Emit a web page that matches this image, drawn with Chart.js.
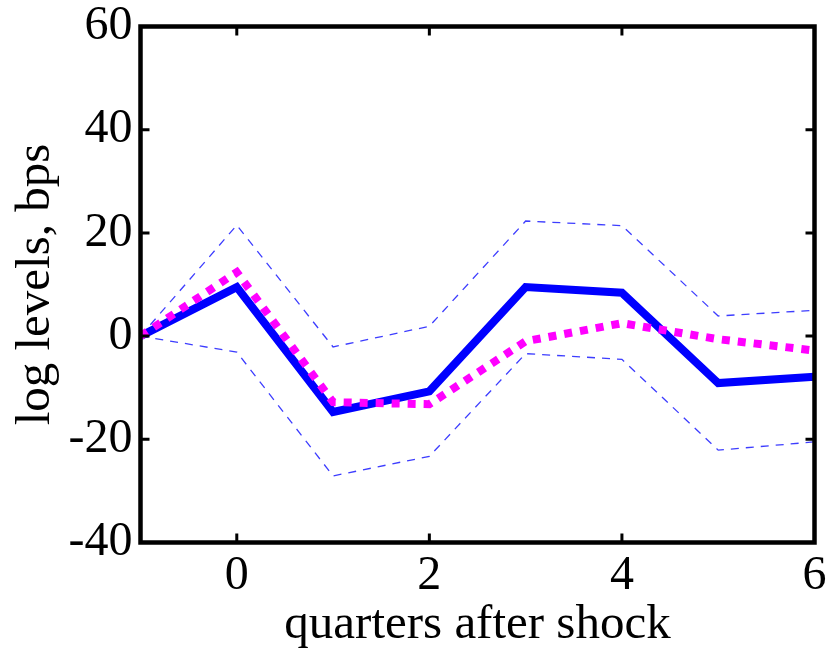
<!DOCTYPE html>
<html>
<head>
<meta charset="utf-8">
<script src="https://cdn.jsdelivr.net/npm/chart.js@4/dist/chart.umd.min.js"></script>
<style>
  html, body { margin: 0; padding: 0; background: #ffffff; }
  #wrap { width: 829px; height: 655px; }
</style>
</head>
<body>
<div id="wrap"><canvas id="c" width="829" height="655"></canvas></div>
<script>
// ---- data ----
const quarters   = [-1, 0, 1, 2, 3, 4, 5, 6];
const pointEst   = [0, 9.5, -14.7, -10.7, 9.5, 8.4, -9.1, -7.9];
const altEst     = [0, 12.4, -12.8, -13.2, -1.0, 2.5, -0.6, -2.8];
const upperBand  = [0, 21.5, -2.1, 1.9, 22.3, 21.4, 3.9, 5.0];
const lowerBand  = [0, -3.1, -27.1, -23.3, -3.4, -4.5, -22.1, -20.5];
const xTicks     = [0, 2, 4, 6];
const yTicks     = [-40, -20, 0, 20, 40, 60];

const toXY = arr => quarters.map((q, i) => ({ x: q, y: arr[i] }));
const FONT = 'Liberation Serif, Times New Roman, serif';

const framePlugin = {
  id: 'frame',
  afterDatasetsDraw(chart) {
    const { ctx, chartArea: a, scales } = chart;
    ctx.save();
    ctx.strokeStyle = '#000';
    ctx.lineWidth = 3;
    ctx.beginPath();
    xTicks.forEach(v => {
      const px = scales.x.getPixelForValue(v);
      ctx.moveTo(px, a.bottom); ctx.lineTo(px, a.bottom - 9);
      ctx.moveTo(px, a.top);    ctx.lineTo(px, a.top + 9);
    });
    yTicks.forEach(v => {
      const py = scales.y.getPixelForValue(v);
      ctx.moveTo(a.left, py);  ctx.lineTo(a.left + 9, py);
      ctx.moveTo(a.right, py); ctx.lineTo(a.right - 9, py);
    });
    ctx.stroke();
    ctx.lineWidth = 4.5;
    ctx.strokeRect(a.left, a.top, a.right - a.left, a.bottom - a.top);
    ctx.restore();
  }
};

new Chart(document.getElementById('c'), {
  type: 'line',
  data: {
    datasets: [
      { data: toXY(altEst), borderColor: '#ff00ff', borderWidth: 8, borderDash: [8, 8], borderCapStyle: 'butt' },
      { data: toXY(pointEst), borderColor: '#0000ff', borderWidth: 8, borderJoinStyle: 'miter' },
      { data: toXY(upperBand), borderColor: 'rgba(40,40,255,0.9)', borderWidth: 1.3, borderDash: [8, 7] },
      { data: toXY(lowerBand), borderColor: 'rgba(40,40,255,0.9)', borderWidth: 1.3, borderDash: [8, 7] }
    ]
  },
  options: {
    responsive: false,
    animation: false,
    devicePixelRatio: 1,
    layout: { padding: { top: 26.5, right: 14.5, left: 0, bottom: 0 } },
    elements: { point: { radius: 0 }, line: { tension: 0, fill: false } },
    plugins: { legend: { display: false }, tooltip: { enabled: false } },
    scales: {
      x: {
        type: 'linear', min: -1, max: 6,
        afterBuildTicks: s => { s.ticks = xTicks.map(v => ({ value: v })); },
        afterFit: s => { s.height = 112.5; s.paddingLeft = 0; s.paddingRight = 0; },
        grid: { display: false, drawTicks: false },
        border: { display: false },
        ticks: { font: { family: FONT, size: 48, lineHeight: 1.0 }, color: '#000', padding: 10, maxRotation: 0, autoSkip: false },
        title: { display: true, text: 'quarters after shock', font: { family: FONT, size: 49, lineHeight: 1.2 }, color: '#000', padding: { top: 0, bottom: 0 } }
      },
      y: {
        type: 'linear', min: -40, max: 60,
        afterBuildTicks: s => { s.ticks = yTicks.map(v => ({ value: v })); },
        afterFit: s => { s.width = 140.5; s.paddingTop = 0; s.paddingBottom = 0; },
        grid: { display: false, drawTicks: false },
        border: { display: false },
        ticks: { font: { family: FONT, size: 48, lineHeight: 1.0 }, color: '#000', padding: 8, autoSkip: false },
        title: { display: true, text: 'log levels, bps', font: { family: FONT, size: 49, lineHeight: 1.2 }, color: '#000', padding: { top: 7, bottom: 0 } }
      }
    }
  },
  plugins: [framePlugin]
});
</script>
</body>
</html>
